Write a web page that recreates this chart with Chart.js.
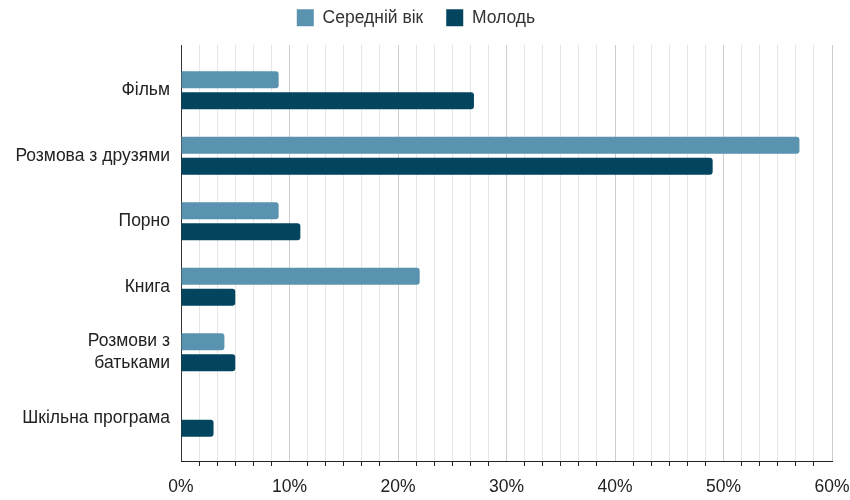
<!DOCTYPE html>
<html><head><meta charset="utf-8">
<script src="https://cdn.jsdelivr.net/npm/chart.js@4"></script>
<style>html,body{margin:0;padding:0;background:#fff}#wrap{width:850px;height:500px}</style>
</head><body><div id="wrap"><canvas id="c" width="850" height="500"></canvas></div>
<script>
const categories = ['Фільм', 'Розмова з друзями', 'Порно', 'Книга', ['Розмови з', 'батьками'], 'Шкільна програма'];
const seriesNames = ['Середній вік', 'Молодь'];
const middleAge = [9, 57, 9, 22, 4, 0];
const youth = [27, 49, 11, 5, 5, 3];
const xTickLabels = ['0%', '10%', '20%', '30%', '40%', '50%', '60%'];

Chart.defaults.font.family = "'Liberation Sans', Arial, sans-serif";
const toPoints = arr => arr.map((v, i) => ({ x: v, y: i }));

const legendHeight = {
  id: 'legendHeight',
  beforeInit(chart) {
    const orig = chart.legend.fit;
    chart.legend.fit = function () { orig.call(this); this.height = 59; };
  }
};

new Chart(document.getElementById('c'), {
  type: 'bar',
  data: {
    datasets: [
      { label: seriesNames[0], data: toPoints(middleAge), backgroundColor: '#5a93b0', borderWidth: 0, borderRadius: 3 },
      { label: seriesNames[1], data: toPoints(youth), backgroundColor: '#03455f', borderWidth: 0, borderRadius: 3 }
    ]
  },
  plugins: [legendHeight],
  options: {
    indexAxis: 'y',
    responsive: false,
    animation: false,
    categoryPercentage: 0.64,
    barPercentage: 0.81,
    layout: { padding: { left: 0, right: 18, top: -14, bottom: 0 } },
    plugins: {
      legend: {
        position: 'top',
        labels: { boxWidth: 17, boxHeight: 17, padding: 23, color: '#333', font: { size: 17.5 } }
      },
      tooltip: { enabled: false }
    },
    scales: {
      x: {
        type: 'linear', min: 0, max: 60,
        ticks: {
          stepSize: 10 / 6, autoSkip: false, maxRotation: 0, padding: 11, color: '#222',
          font: { size: 17.5 },
          callback: (v, i) => (i % 6 === 0 ? xTickLabels[i / 6] : '')
        },
        grid: {
          color: c => (c.index % 6 === 0 ? '#cccccc' : '#e6e6e6'),
          tickColor: c => (c.index % 6 === 0 ? 'rgba(0,0,0,0)' : '#222'),
          tickLength: 5, lineWidth: 1
        },
        border: { color: '#222', width: 1 },
        afterFit: s => { s.height = 39; s.paddingRight = 0; s.paddingLeft = 0; }
      },
      y: {
        type: 'linear', reverse: true, min: -0.69, max: 5.66, offset: false,
        ticks: {
          stepSize: 1, includeBounds: false, autoSkip: false, padding: 11, color: '#222',
          font: { size: 17.5, lineHeight: 1.22 },
          callback: v => (Number.isInteger(v) ? categories[v] : '')
        },
        grid: { display: false, drawTicks: false, offset: false },
        border: { color: '#333', width: 1 },
        afterFit: s => { s.width = 181; }
      }
    }
  }
});
</script></body></html>
